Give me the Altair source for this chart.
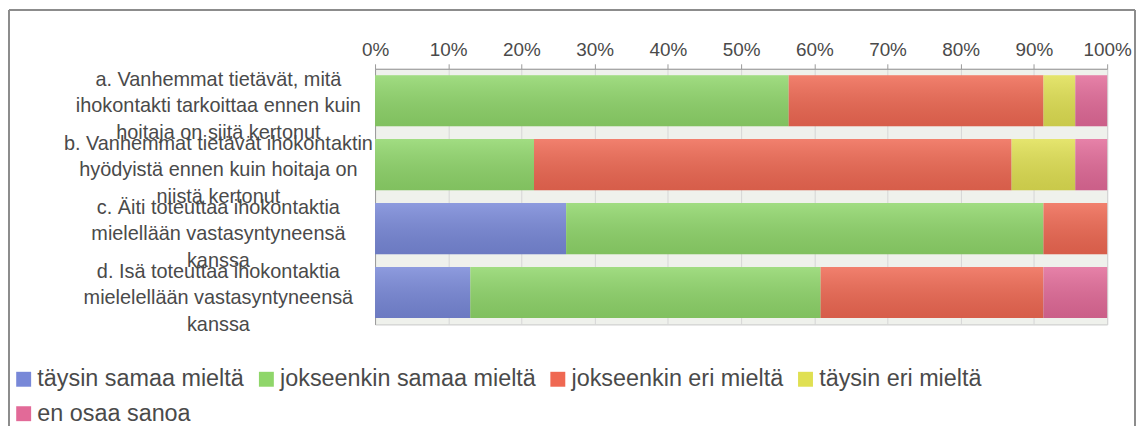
import altair as alt
import pandas as pd

questions = [
    "a. Vanhemmat tietävät, mitä|ihokontakti tarkoittaa ennen kuin|hoitaja on siitä kertonut",
    "b. Vanhemmat tietävät ihokontaktin|hyödyistä ennen kuin hoitaja on|niistä kertonut",
    "c. Äiti toteuttaa ihokontaktia|mielellään vastasyntyneensä|kanssa",
    "d. Isä toteuttaa ihokontaktia|mielelellään vastasyntyneensä|kanssa",
]
categories = [
    "täysin samaa mieltä",
    "jokseenkin samaa mieltä",
    "jokseenkin eri mieltä",
    "täysin eri mieltä",
    "en osaa sanoa",
]
colors = ["#7888d8", "#8fd66a", "#ef6852", "#e0e052", "#e26a98"]

# percentages per question, in category order
vals_a = [0, 56.5, 34.8, 4.35, 4.35]
vals_b = [0, 21.7, 65.2, 8.7, 4.35]
vals_c = [26.1, 65.2, 8.7, 0, 0]
vals_d = [13.0, 47.8, 30.4, 0, 8.7]

rows = []
for q, vals in zip(questions, [vals_a, vals_b, vals_c, vals_d]):
    for i, (c, v) in enumerate(zip(categories, vals)):
        if v > 0:
            rows.append({"question": q, "category": c, "value": v, "ord": i})
df = pd.DataFrame(rows)

TEXT = "#4a4a4a"
FONT = "Liberation Sans"

y_enc = alt.Y(
    "question:N",
    sort=questions,
    scale=alt.Scale(paddingInner=0.2, paddingOuter=0.1),
    axis=alt.Axis(
        title=None,
        labelExpr="split(datum.label, '|')",
        labelAlign="center",
        labelBaseline="middle",
        labelPadding=158,
        ticks=False,
        tickSize=0,
        labelLimit=0,
        labelFontSize=20,
        labelLineHeight=26.7,
        labelColor=TEXT,
        labelFont=FONT,
        labelOffset=-21,
        domainColor="#9a9a9a",
        grid=False,
    ),
)
x_enc = alt.X(
    "value:Q",
    stack="normalize",
    scale=alt.Scale(domain=[0, 1]),
    axis=alt.Axis(
        orient="top",
        title=None,
        format=".0%",
        values=[0, 0.1, 0.2, 0.3, 0.4, 0.5, 0.6, 0.7, 0.8, 0.9, 1.0],
        labelFontSize=19,
        labelFont=FONT,
        labelColor=TEXT,
        labelPadding=4,
        tickSize=5,
        tickColor="#9a9a9a",
        domainColor="#9a9a9a",
        grid=True,
        gridColor="#d6d6d6",
        labelFlush=False,
    ),
)

bars = alt.Chart(df).mark_bar().encode(
    y=y_enc,
    x=x_enc,
    color=alt.Color(
        "category:N",
        scale=alt.Scale(domain=categories, range=colors),
        legend=alt.Legend(
            title=None,
            orient="none",
            legendX=-365,
            legendY=300,
            direction="horizontal",
            columns=4,
            symbolType="square",
            symbolSize=225,
            symbolStrokeWidth=0,
            labelFontSize=23.5,
            labelFont=FONT,
            labelColor=TEXT,
            labelOffset=2,
            columnPadding=10,
            rowPadding=10,
            labelLimit=0,
        ),
    ),
    order=alt.Order("ord:Q"),
)

shade = alt.Chart(df).mark_bar(
    color=alt.LinearGradient(
        gradient="linear",
        stops=[
            alt.GradientStop(color="rgba(255,255,255,0.16)", offset=0),
            alt.GradientStop(color="rgba(0,0,0,0.10)", offset=1),
        ],
        x1=0, x2=0, y1=0, y2=1,
    )
).encode(
    y=y_enc,
    x=x_enc,
    detail="category:N",
    order=alt.Order("ord:Q"),
)

frame_df = pd.DataFrame({"k": [0]})
frame_style = dict(color="#8c8c8c", strokeWidth=2)
frame_left = alt.Chart(frame_df).mark_rule(**frame_style).encode(
    x=alt.value(-368), y=alt.value(-59), y2=alt.value(420)
)
frame_top = alt.Chart(frame_df).mark_rule(**frame_style).encode(
    x=alt.value(-368), x2=alt.value(764), y=alt.value(-59)
)
frame_right = alt.Chart(frame_df).mark_rule(**frame_style).encode(
    x=alt.value(764), y=alt.value(-59), y2=alt.value(420)
)

chart = (
    alt.layer(bars, shade, frame_left, frame_top, frame_right)
    .properties(
        width=736,
        height=257,
        autosize=alt.AutoSizeParams(type="none"),
        padding={"left": 369, "top": 60, "right": 29, "bottom": 101},
        background="white",
    )
    .configure_view(fill="#eff1ec", stroke="#c8c8c8")
)

chart.save("out.html", embed_options={"renderer": "svg", "actions": False})
